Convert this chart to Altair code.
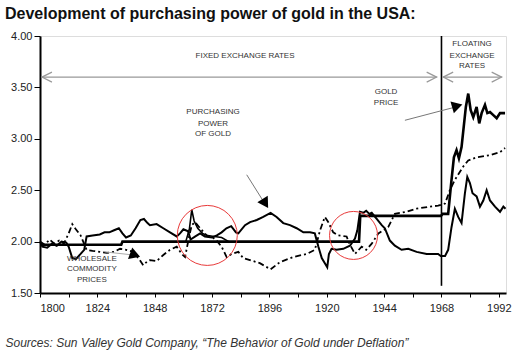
import altair as alt
import pandas as pd

# ---------------- data ----------------
gold_years = [1800, 1834, 1834.5, 1933.5, 1934, 1967.8, 1968.5, 1970.8, 1972.2, 1973.2,
              1974.3, 1975.3, 1976.4, 1978.2, 1979.2, 1980.2, 1981.3, 1982.7, 1983.8,
              1984.8, 1986.2, 1987.2, 1988.3, 1989.7, 1991.1, 1992.5, 1994.6]
gold_values = [1.97, 1.97, 2.00, 2.00, 2.25, 2.25, 2.27, 2.27, 2.60, 2.82,
               2.89, 2.81, 2.92, 3.31, 3.44, 3.28, 3.21, 3.31, 3.15,
               3.25, 3.33, 3.25, 3.26, 3.23, 3.20, 3.25, 3.25]

greenback_years = [1861, 1862.5, 1863.5, 1864.5, 1866, 1868, 1870, 1873, 1876, 1879]
greenback_values = [2.00, 2.12, 2.31, 2.20, 2.13, 2.08, 2.06, 2.05, 2.04, 2.00]

power_years = [1800, 1801, 1803, 1805, 1807, 1809, 1811, 1812, 1813.5, 1815, 1817, 1818.5,
               1819.5, 1822, 1825, 1827, 1829, 1831, 1833, 1834.5, 1836, 1838, 1840, 1842,
               1843.5, 1845, 1846, 1848.8, 1851.6, 1854.4, 1857.2, 1858.6, 1860, 1862,
               1863, 1865, 1867, 1869, 1872, 1874, 1876, 1878, 1880, 1882, 1883, 1885.8,
               1887.9, 1890.7, 1893.4, 1896.5, 1899, 1901.8, 1904.6, 1907.4, 1910.2, 1913,
               1915, 1916.5, 1917.9, 1919.2, 1920.2, 1920.9, 1922, 1924.1, 1926.9, 1929.7,
               1931.8, 1932.8, 1933.9, 1935.3, 1936.5, 1937.8, 1938.8, 1940.9, 1943, 1944.3,
               1946.4, 1948.5, 1951.3, 1954.1, 1957.6, 1961.8, 1966.6, 1967.7, 1969.5,
               1970.8, 1972.2, 1973.6, 1975, 1976.4, 1977.8, 1978.8, 1979.9, 1981, 1982.7,
               1984.1, 1985.5, 1986.9, 1988.3, 1990.4, 1992.5, 1993.9, 1994.8]
power_values = [2.00, 1.95, 1.94, 1.98, 1.96, 2.00, 1.99, 1.95, 1.84, 1.83, 1.88, 1.92,
                2.05, 2.06, 2.07, 2.09, 2.09, 2.11, 2.13, 2.08, 2.04, 2.06, 2.13, 2.21,
                2.22, 2.18, 2.16, 2.17, 2.13, 2.09, 2.05, 2.08, 2.12, 2.10,
                2.02, 2.05, 2.08, 2.05, 2.04, 2.06, 2.09, 2.13, 2.15, 2.09, 2.08, 2.16,
                2.19, 2.21, 2.24, 2.28, 2.24, 2.18, 2.16, 2.13, 2.09, 2.09,
                2.08, 1.95, 1.84, 1.79, 1.75, 1.88, 1.93, 1.92, 1.93, 1.96,
                2.03, 2.11, 2.29, 2.28, 2.30, 2.27, 2.28, 2.22, 2.16, 2.13,
                2.01, 1.96, 1.92, 1.93, 1.90, 1.88, 1.88, 1.86, 1.86,
                1.92, 2.14, 2.32, 2.24, 2.18, 2.47, 2.63, 2.57, 2.47, 2.44,
                2.34, 2.40, 2.50, 2.40, 2.34, 2.29, 2.34, 2.32]

wholesale_years = [1800, 1802, 1804, 1806, 1808, 1810, 1812, 1813.5, 1815, 1817, 1819.5,
                   1822, 1825, 1828, 1831, 1833.5, 1836, 1839, 1841.8, 1843.2, 1845, 1846,
                   1848.8, 1851.6, 1854.4, 1857.2, 1859.3, 1860.7, 1862.5, 1863.5, 1864.9,
                   1867, 1869.7, 1871.8, 1873.9, 1876, 1878.1, 1880.2, 1883, 1885, 1887.9,
                   1892, 1896.5, 1900.4, 1906, 1911.6, 1915, 1917.2, 1919.2, 1920.6, 1922.7,
                   1924.8, 1928.3, 1929.5, 1931.8, 1933, 1934.6, 1936.5, 1938.8, 1941.6,
                   1945.7, 1948.5, 1953.4, 1957.6, 1963, 1966.6, 1969.5, 1971.5, 1973.6,
                   1977.1, 1979.2, 1982.7, 1988.3, 1992.5, 1994.6]
wholesale_values = [2.00, 1.97, 2.02, 1.98, 2.01, 1.98, 2.08, 2.17, 2.12, 2.06, 1.92,
                    1.91, 1.90, 1.89, 1.90, 1.93, 1.92, 1.90, 1.82, 1.77, 1.81, 1.82,
                    1.81, 1.87, 1.92, 1.95, 1.88, 1.85, 2.06, 2.16, 2.19,
                    2.13, 2.06, 2.05, 2.01, 1.95, 1.85, 1.88, 1.90, 1.84, 1.82,
                    1.79, 1.73, 1.80, 1.85, 1.88, 1.92, 2.11, 2.24, 2.19, 2.09,
                    2.06, 2.05, 1.98, 1.88, 1.91, 1.95, 1.92, 1.98, 2.08,
                    2.14, 2.27, 2.29, 2.32, 2.34, 2.35, 2.37, 2.50, 2.60,
                    2.73, 2.79, 2.82, 2.84, 2.87, 2.91]

x_tick_values = list(range(1800, 1993, 12))
y_tick_values = [1.5, 2.0, 2.5, 3.0, 3.5, 4.0]

title_text = "Development of purchasing power of gold in the USA:"
source_text = "Sources: Sun Valley Gold Company, \u201cThe Behavior of Gold under Deflation\u201d"

label_texts = ["FIXED EXCHANGE RATES", "FLOATING", "EXCHANGE", "RATES", "GOLD", "PRICE",
               "PURCHASING", "POWER", "OF GOLD", "WHOLESALE", "COMMODITY", "PRICES"]
label_years = [1885.8, 1980.8, 1980.8, 1980.8, 1944.8, 1944.8,
               1872.4, 1872.4, 1872.4, 1821.7, 1821.7, 1821.7]
label_values = [3.81, 3.92, 3.81, 3.71, 3.46, 3.35,
                3.26, 3.14, 3.05, 1.83, 1.73, 1.63]

circle_years = [1870, 1931.2]
circle_values = [2.06, 2.06]
circle_sizes = [3600, 2304]

# pointer arrows: start (year, value) -> tip (year, value), head angle
arrow_x1 = [1952.7, 1886.5, 1827.0]
arrow_y1 = [3.18, 2.65, 1.90]
arrow_x2 = [1974.0, 1893.8, 1839.0]
arrow_y2 = [3.31, 2.38, 1.87]
arrow_head_x = [1974.6, 1894.3, 1839.8]
arrow_head_y = [3.32, 2.37, 1.87]
arrow_angles = [344, 58, 20]
arrow_colors = ["#777777", "#777777", "#aaaaaa"]

# exchange-rate span arrows
span_x1 = [1800.8, 1968.7]
span_x2 = [1966.0, 1993.2]
span_y = [3.60, 3.60]

# ---------------- frames ----------------
def series(years, values):
    return pd.DataFrame({"year": years, "value": values, "order": list(range(len(years)))})

gold_df = series(gold_years, gold_values)
green_df = series(greenback_years, greenback_values)
power_df = series(power_years, power_values)
whole_df = series(wholesale_years, wholesale_values)

xs = alt.Scale(domain=[1800, 1995], nice=False, zero=False)
ys = alt.Scale(domain=[1.5, 4.0], nice=False, zero=False)

x_axis = alt.Axis(values=x_tick_values, format="d",
                  labelExpr="datum.value % 24 == 0 ? datum.label : ''",
                  grid=False, domainColor="black", domainWidth=2, tickColor="black",
                  tickSize=4, tickWidth=1, labelPadding=5, labelFontSize=11,
                  labelColor="#222222", labelFont="Liberation Sans",
                  title=source_text, titleX=-35, titleY=53, titleAlign="left",
                  titleBaseline="alphabetic", titleFontStyle="italic",
                  titleFontWeight="normal", titleFontSize=12, titleColor="#333333",
                  titleFont="Liberation Sans")
y_axis = alt.Axis(values=y_tick_values, format=".2f", grid=False, domainColor="black",
                  domainWidth=2, tickColor="black", tickSize=6, tickWidth=1,
                  labelPadding=2, labelFontSize=11, labelColor="#222222",
                  labelFont="Liberation Sans", title=None)

X = alt.X("year:Q", scale=xs, axis=x_axis)
Y = alt.Y("value:Q", scale=ys, axis=y_axis)

gold_line = alt.Chart(gold_df).mark_line(color="black", strokeWidth=2.6).encode(
    x=X, y=Y, order="order:Q")
green_line = alt.Chart(green_df).mark_line(color="black", strokeWidth=1.6).encode(
    x=X, y=Y, order="order:Q")
power_line = alt.Chart(power_df).mark_line(color="black", strokeWidth=2).encode(
    x=X, y=Y, order="order:Q")
whole_line = alt.Chart(whole_df).mark_line(color="black", strokeWidth=1.8,
                                           strokeDash=[6, 3, 2, 3]).encode(
    x=X, y=Y, order="order:Q")

vline = alt.Chart(pd.DataFrame({"year": [1968], "value": [1.57], "value2": [4.0]})).mark_rule(
    color="black", strokeWidth=1.6).encode(x=X, y=Y, y2="value2:Q")

circles = alt.Chart(pd.DataFrame({"year": circle_years, "value": circle_values,
                                  "size": circle_sizes})).mark_point(
    shape="circle", filled=False, color="#e83a3a", strokeWidth=1, opacity=1).encode(
    x=X, y=Y, size=alt.Size("size:Q", scale=None, legend=None))

arrow_lines = alt.Chart(pd.DataFrame({"year": arrow_x1, "value": arrow_y1,
                                      "year2": arrow_x2, "value2": arrow_y2,
                                      "c": arrow_colors})).mark_rule(strokeWidth=1).encode(
    x=X, y=Y, x2="year2:Q", y2="value2:Q", color=alt.Color("c:N", scale=None, legend=None))

arrow_heads = alt.Chart(pd.DataFrame({"year": arrow_head_x, "value": arrow_head_y,
                                      "angle": arrow_angles})).mark_point(
    shape="triangle-right", filled=True, color="black", size=150, opacity=1).encode(
    x=X, y=Y, angle=alt.Angle("angle:Q", scale=None))

span_lines = alt.Chart(pd.DataFrame({"year": span_x1, "value": span_y, "year2": span_x2})).mark_rule(
    color="#999999", strokeWidth=1.3).encode(x=X, y=Y, x2="year2:Q")

chev_years = [span_x1[0] + 2.1, span_x2[0] - 2.1, span_x1[1] + 2.1, span_x2[1] - 2.1]
chev_shapes = ["M1,-1L-1,0L1,1", "M-1,-1L1,0L-1,1", "M1,-1L-1,0L1,1", "M-1,-1L1,0L-1,1"]
chevrons = alt.Chart(pd.DataFrame({"year": chev_years, "value": [3.60] * 4,
                                   "shape": chev_shapes})).mark_point(
    filled=False, color="#999999", strokeWidth=1.2, size=100, opacity=1).encode(
    x=X, y=Y, shape=alt.Shape("shape:N", scale=None, legend=None))

labels = alt.Chart(pd.DataFrame({"year": label_years, "value": label_values,
                                 "label": label_texts})).mark_text(
    font="Liberation Sans", fontSize=8, color="#333333", align="center",
    baseline="middle").encode(x=X, y=Y, text="label:N")

chart = alt.layer(
    gold_line, green_line, power_line, whole_line, vline, circles,
    span_lines, chevrons, arrow_lines, arrow_heads, labels
).properties(
    width=466, height=257,
    title=alt.TitleParams(title_text, anchor="start", frame="group", dx=-35,
                          fontSize=16, fontWeight="bold", font="Liberation Sans",
                          color="#111111", offset=8),
    padding={"left": 40, "top": 36, "right": 10, "bottom": 60},
    autosize="none",
).configure_view(stroke="black", strokeWidth=2).configure(background="white")

chart.save("out.html", embed_options={"renderer": "svg", "actions": False})
